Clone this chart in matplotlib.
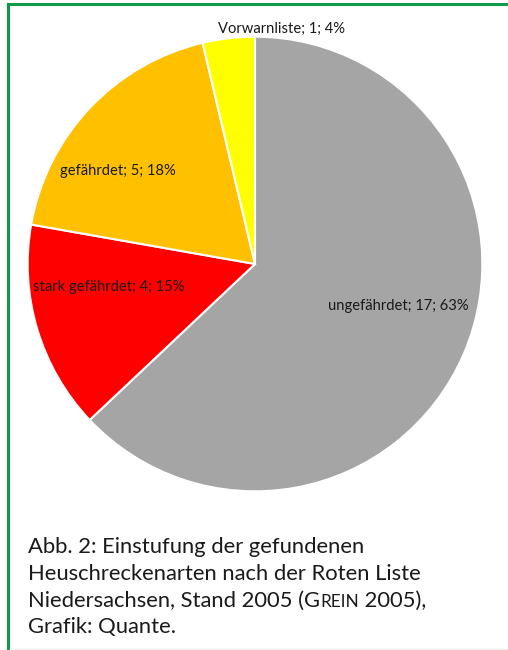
import matplotlib
matplotlib.use("Agg")
from matplotlib import pyplot as plt

# Rote Liste Niedersachsen 2005 - Heuschrecken
categories = ["ungefährdet", "stark gefährdet", "gefährdet", "Vorwarnliste"]
counts = [17, 4, 5, 1]
percents = [63, 15, 18, 4]   # as printed in the chart
colors = ["#A5A5A5", "#FF0000", "#FFC000", "#FFFF00"]

# label positions in pixels (x, y from top)
label_pos = [(398, 306), (109, 287), (118, 171), (281, 29)]

caption = [
    "Abb. 2: Einstufung der gefundenen",
    "Heuschreckenarten nach der Roten Liste",
    "Niedersachsen, Stand 2005 (G",
    "Grafik: Quante.",
]

W, H = 508, 650
fig = plt.figure(figsize=(W / 100, H / 100), dpi=100)
fig.patch.set_facecolor("white")

cx, cy, r = 255, 264, 228
ax = fig.add_axes([(cx - r) / W, 1 - (cy + r) / H, 2 * r / W, 2 * r / H])
ax.pie(counts, colors=colors, startangle=90, counterclock=False,
       wedgeprops=dict(edgecolor="white", linewidth=1.5))
ax.set_xlim(-1.003, 1.003)
ax.set_ylim(-1.003, 1.003)
ax.set_aspect("equal")
ax.axis("off")

for name, n, pct, (x, y) in zip(categories, counts, percents, label_pos):
    fig.text(x / W, 1 - y / H, f"{name}; {n}; {pct}%", ha="center", va="center",
             fontsize=10.6, family="Lato", color="#1a1a1a")

# green frame (top and left)
green = "#0E9A48"
fig.add_artist(plt.Line2D([8 / W, 1], [1 - 4 / H, 1 - 4 / H], color=green, lw=2.2,
                          transform=fig.transFigure))
fig.add_artist(plt.Line2D([8 / W, 8 / W], [0, 1 - 4 / H], color=green, lw=2.2,
                          transform=fig.transFigure))
fig.add_artist(plt.Line2D([10 / W, 1], [1.5 / H, 1.5 / H], color="#eeeeee", lw=1,
                          transform=fig.transFigure))

# caption
line_y = [553, 580, 607, 633]
cap_size = 15.8
texts = []
for s, y in zip(caption, line_y):
    t = fig.text(28 / W, 1 - y / H, s, ha="left", va="baseline",
                 fontsize=cap_size, family="Lato", color="#1a1a1a")
    texts.append(t)

# small caps "REIN" and rest of line 3
renderer = fig.canvas.get_renderer()
x1 = texts[2].get_window_extent(renderer).x1
t2 = fig.text(x1 / W, 1 - line_y[2] / H, "REIN", ha="left", va="baseline",
              fontsize=cap_size * 0.78, family="Lato", color="#1a1a1a")
x2 = t2.get_window_extent(renderer).x1
fig.text(x2 / W, 1 - line_y[2] / H, " 2005),", ha="left", va="baseline",
         fontsize=cap_size, family="Lato", color="#1a1a1a")

fig.savefig("out.png", dpi=100)
